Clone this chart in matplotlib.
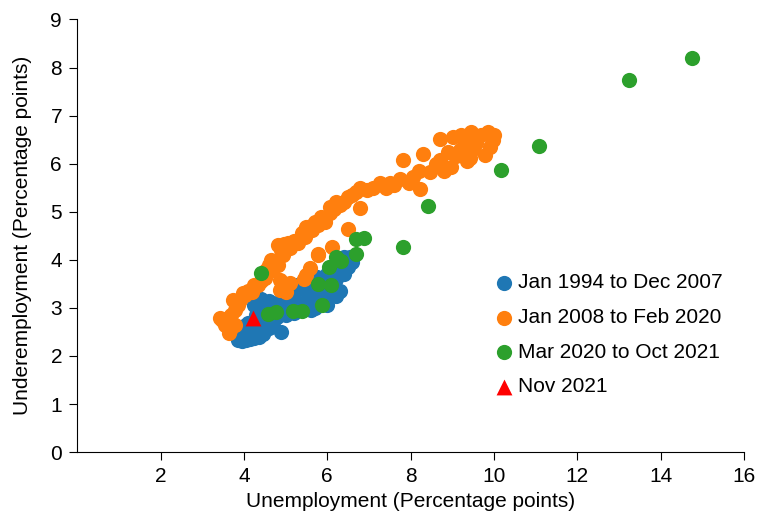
import matplotlib.pyplot as plt

# Jan 1994 to Dec 2007
blue_x = [3.85, 3.95, 4.05, 4.15, 4.25, 4.35, 4.45, 4.0, 4.1, 4.2, 4.3, 4.4, 4.5, 4.6,
          4.0, 4.1, 4.2, 4.4, 4.5, 4.6, 4.7, 4.3, 4.4, 4.5, 4.6, 4.7, 4.8, 4.9,
          4.5, 4.6, 4.7, 4.8, 4.9, 5.0, 5.0, 5.1, 5.2, 5.3, 5.4, 5.0, 5.2, 5.3,
          5.4, 5.5, 5.6, 5.7, 5.6, 5.7, 5.8, 5.9, 6.0, 5.8, 5.9, 6.0, 6.1, 6.2,
          6.3, 6.0, 6.2, 6.3, 6.4, 6.5, 6.55, 6.6, 6.4, 5.5, 5.2, 4.8, 4.1, 5.6,
          6.2, 4.4, 4.25, 5.1, 5.35, 5.75, 6.05]
blue_y = [2.33, 2.32, 2.33, 2.36, 2.38, 2.40, 2.45, 2.48, 2.52, 2.50, 2.55, 2.58, 2.55, 2.58,
          2.62, 2.68, 2.65, 2.70, 2.75, 2.72, 2.70, 2.85, 2.95, 2.88, 2.95, 2.90, 2.95, 2.50,
          3.10, 3.15, 3.05, 3.10, 3.00, 2.85, 3.05, 3.15, 3.05, 3.10, 3.00, 3.25, 3.30, 3.40,
          3.45, 3.35, 3.20, 3.00, 3.45, 3.55, 3.25, 3.15, 3.05, 3.60, 3.40, 3.50, 3.30, 3.25,
          3.35, 3.70, 3.60, 3.80, 3.70, 3.85, 4.05, 3.95, 4.05, 3.10, 2.90, 2.80, 2.42, 2.95,
          3.85, 3.18, 3.05, 3.45, 3.50, 3.65, 3.75]

# Jan 2008 to Feb 2020
orange_x = [8.70, 9.02, 9.46, 9.86, 9.98, 9.58, 9.18, 9.78, 9.42, 8.98, 8.70, 8.30, 8.46,
            7.82, 8.22, 8.06, 7.74, 7.50, 7.26, 9.60, 9.30, 9.90, 9.50, 9.10, 8.90, 9.70,
            10.00, 9.20, 9.35, 8.60, 8.80, 8.20, 7.95, 7.60, 7.40, 7.10, 6.95,
            6.70, 6.78, 6.50, 6.30, 6.22, 6.06, 6.06, 5.94, 5.77, 5.70, 5.63, 5.50, 5.46,
            5.29, 5.10, 5.06, 4.94, 4.82, 4.95, 4.82, 4.67, 4.54, 4.50, 4.66, 4.34, 4.23,
            4.19, 4.02, 3.98, 3.90, 3.74, 3.78, 3.61, 3.47, 3.42, 3.66, 3.63, 3.78, 3.55,
            3.70, 3.85, 4.10, 4.40, 4.60, 4.90, 5.20, 5.40, 5.60, 5.85, 6.15, 6.40, 6.60,
            4.86, 5.02, 4.86, 5.43, 5.58, 5.78, 6.12, 6.50, 6.78, 4.94, 5.10, 5.50, 5.78]
orange_y = [6.52, 6.56, 6.66, 6.66, 6.49, 6.42, 6.28, 6.17, 6.11, 5.93, 6.07, 6.21, 5.83,
            6.07, 5.48, 5.72, 5.69, 5.59, 5.59, 6.55, 6.45, 6.35, 6.30, 6.15, 6.25, 6.60,
            6.60, 6.60, 6.05, 6.00, 5.85, 5.85, 5.60, 5.55, 5.50, 5.50, 5.45,
            5.41, 5.49, 5.30, 5.14, 5.20, 5.10, 4.97, 4.78, 4.72, 4.79, 4.62, 4.68, 4.47,
            4.35, 4.24, 4.34, 4.10, 4.30, 4.32, 3.89, 3.78, 3.78, 3.62, 3.99, 3.47, 3.47,
            3.33, 3.26, 3.30, 3.16, 3.16, 2.95, 2.79, 2.74, 2.78, 2.54, 2.47, 2.64, 2.65,
            2.85, 3.05, 3.35, 3.55, 3.90, 4.20, 4.40, 4.55, 4.70, 4.90, 5.05, 5.20, 5.35,
            3.37, 3.33, 3.58, 3.61, 3.82, 4.10, 4.27, 4.65, 5.07, 3.40, 3.51, 3.68, 4.13]

# Mar 2020 to Oct 2021
green_x = [4.42, 14.74, 13.25, 11.07, 10.18, 8.41, 7.81, 6.88, 6.68, 6.68,
           6.32, 6.20, 6.04, 6.08, 5.78, 5.88, 5.40, 5.18, 4.77, 4.58]
green_y = [3.73, 8.19, 7.75, 6.36, 5.86, 5.11, 4.26, 4.46, 4.44, 4.12,
           3.97, 4.05, 3.85, 3.47, 3.49, 3.07, 2.94, 2.93, 2.92, 2.88]

# Nov 2021
red_x = [4.22]
red_y = [2.78]

plt.rcParams['font.family'] = ['Liberation Sans', 'DejaVu Sans']

fig = plt.figure(figsize=(7.69, 5.12), dpi=100)
ax = fig.add_axes([0.1005, 0.117, 0.867, 0.845])

ax.scatter(blue_x, blue_y, s=120, color='#1f77b4', linewidths=0, label='Jan 1994 to Dec 2007')
ax.scatter(orange_x, orange_y, s=120, color='#ff7f0e', linewidths=0, label='Jan 2008 to Feb 2020')
ax.scatter(green_x, green_y, s=120, color='#2ca02c', linewidths=0, label='Mar 2020 to Oct 2021')
ax.scatter(red_x, red_y, s=130, marker='^', color='red', linewidths=0, label='Nov 2021')

ax.set_xlim(0, 16)
ax.set_ylim(0, 9)
ax.set_xticks(range(2, 17, 2))
ax.set_yticks(range(0, 10))
ax.spines['top'].set_visible(False)
ax.spines['right'].set_visible(False)
ax.tick_params(labelsize=15, length=6, pad=5)

ax.set_xlabel('Unemployment (Percentage points)', fontsize=15, labelpad=4)
ax.set_ylabel('Underemployment (Percentage points)', fontsize=15, labelpad=13)

ax.legend(loc='upper left', bbox_to_anchor=(0.627, 0.413), frameon=False, fontsize=15,
          handlelength=0.8, handletextpad=0.3, borderpad=0, borderaxespad=0,
          labelspacing=0.75, scatterpoints=1)

plt.savefig('out.png', dpi=100)
